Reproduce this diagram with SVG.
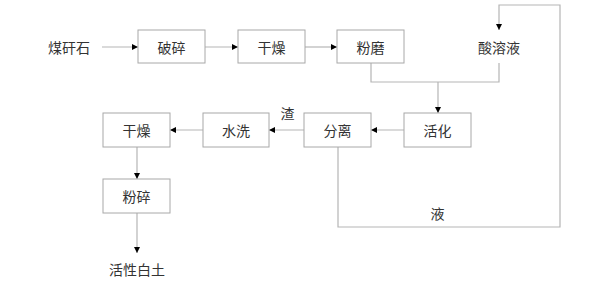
<svg xmlns="http://www.w3.org/2000/svg" width="595" height="294" viewBox="0 0 595 294">
<style>
.box{fill:#fff;stroke:#a8a8a8;stroke-width:1}
.nob{fill:#fff;stroke:none}
.t{font-family:"Noto Sans CJK SC","Noto Sans CJK JP",sans-serif;font-size:14px;fill:#333;text-anchor:middle;dominant-baseline:central}
.c{fill:none;stroke:#b5b5b5;stroke-width:1.2}
</style>
<defs>
<marker id="ah" markerUnits="userSpaceOnUse" markerWidth="7" markerHeight="7" refX="6" refY="3.5" orient="auto">
<path d="M0,0.5 L6,3.5 L0,6.5 Z" fill="#000"/>
</marker>
</defs>
<rect width="595" height="294" fill="#fff"/>
<g id="connectors">
<path class="c" d="M102,47 H138" marker-end="url(#ah)"/>
<path class="c" d="M205,47 H238" marker-end="url(#ah)"/>
<path class="c" d="M305,47 H337" marker-end="url(#ah)"/>
<path class="c" d="M371,63 V82 H499 V63"/>
<path class="c" d="M438,82 V113" marker-end="url(#ah)"/>
<path class="c" d="M404,130 H371" marker-end="url(#ah)"/>
<path class="c" d="M304,130 H269" marker-end="url(#ah)"/>
<path class="c" d="M203,130 H170" marker-end="url(#ah)"/>
<path class="c" d="M137,147 V179" marker-end="url(#ah)"/>
<path class="c" d="M137,213 V253" marker-end="url(#ah)"/>
<path class="c" d="M338,147 V227 H560 V5 H499 V30" marker-end="url(#ah)"/>
</g>
<g id="n-meiganshi"><rect class="nob" x="36" y="30" width="66" height="33"/><text class="t" x="69" y="47">煤矸石</text></g>
<g id="n-posui"><rect class="box" x="138" y="30" width="67" height="33"/><text class="t" x="171.5" y="47">破碎</text></g>
<g id="n-ganzao1"><rect class="box" x="238" y="30" width="67" height="33"/><text class="t" x="271.5" y="47">干燥</text></g>
<g id="n-fenmo"><rect class="box" x="337" y="30" width="67" height="33"/><text class="t" x="370.5" y="47">粉磨</text></g>
<g id="n-suanrongye"><rect class="nob" x="455" y="31" width="88" height="32"/><text class="t" x="499" y="47">酸溶液</text></g>
<g id="n-huohua"><rect class="box" x="404" y="113" width="67" height="34"/><text class="t" x="437.5" y="130">活化</text></g>
<g id="n-fenli"><rect class="box" x="304" y="113" width="67" height="34"/><text class="t" x="337.5" y="130">分离</text></g>
<g id="n-shuixi"><rect class="box" x="203" y="113" width="66" height="34"/><text class="t" x="236" y="130">水洗</text></g>
<g id="n-ganzao2"><rect class="box" x="103" y="113" width="67" height="34"/><text class="t" x="136.5" y="130">干燥</text></g>
<g id="n-fensui"><rect class="box" x="103" y="179" width="67" height="34"/><text class="t" x="136.5" y="196">粉碎</text></g>
<g id="n-huoxingbaitu"><rect class="nob" x="101" y="253" width="72" height="33"/><text class="t" x="137" y="269">活性白土</text></g>
<g id="l-zha"><rect class="nob" x="277" y="103" width="21" height="20"/><text class="t" x="287.5" y="113">渣</text></g>
<g id="l-ye"><rect class="nob" x="428" y="203" width="19" height="20"/><text class="t" x="437.5" y="213">液</text></g>
</svg>
